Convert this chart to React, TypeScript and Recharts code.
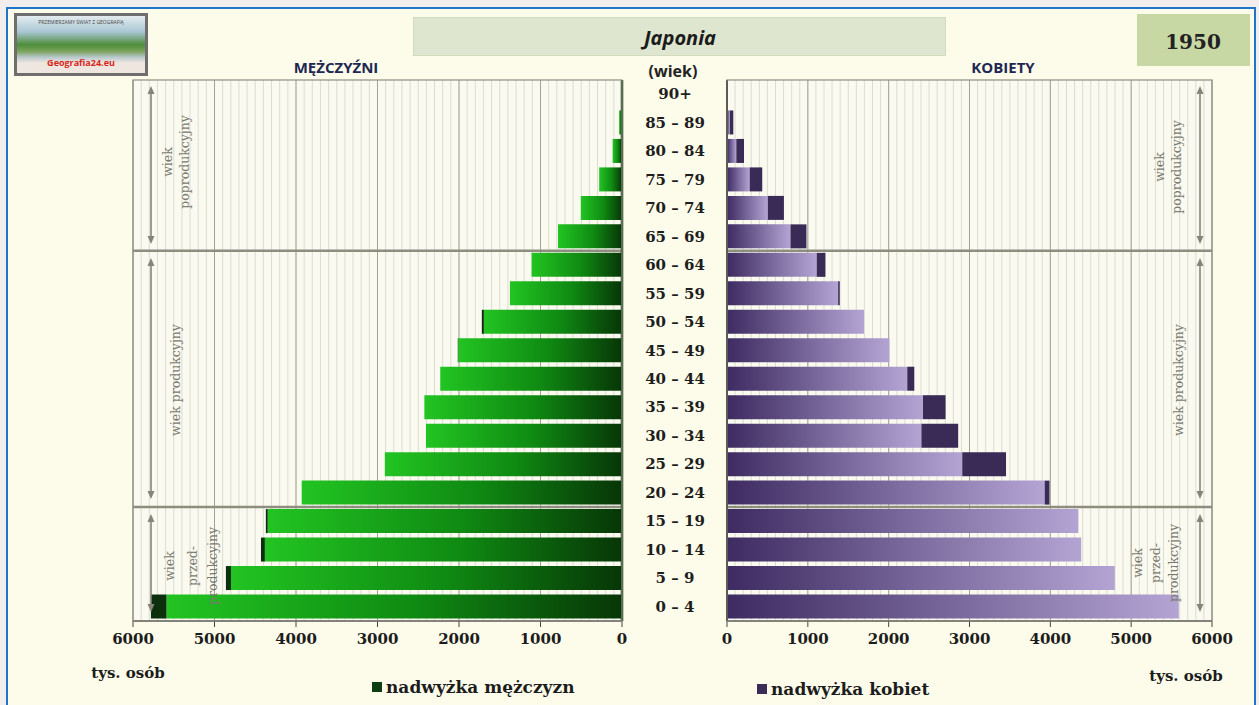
import React from "react";
import {
  BarChart,
  Bar,
  XAxis,
  YAxis,
  CartesianGrid,
  ReferenceLine,
} from "recharts";

// grupy wieku, od najstarszych (góra) do najmłodszych (dół)
const ages = [
  "90+", "85 – 89", "80 – 84", "75 – 79", "70 – 74", "65 – 69", "60 – 64",
  "55 – 59", "50 – 54", "45 – 49", "40 – 44", "35 – 39", "30 – 34",
  "25 – 29", "20 – 24", "15 – 19", "10 – 14", "5 – 9", "0 – 4",
];

// tys. osób, Japonia 1950
const men = [5, 35, 115, 280, 505, 785, 1110, 1375, 1720, 2015, 2230, 2425, 2405, 2910, 3930, 4370, 4430, 4860, 5780];
const women = [12, 78, 210, 436, 704, 983, 1218, 1395, 1695, 2010, 2317, 2704, 2860, 3452, 3990, 4347, 4382, 4798, 5589];

const majorTicks = [0, 1000, 2000, 3000, 4000, 5000, 6000];
const xMax = 6000;
const minorTicks = Array.from({ length: 61 }, (_, i) => i * 100);

const data = ages.map((age, i) => ({
  age,
  menBase: Math.min(men[i], women[i]),
  menSurplus: Math.max(men[i] - women[i], 0),
  womenBase: Math.min(men[i], women[i]),
  womenSurplus: Math.max(women[i] - men[i], 0),
}));

const serif = "'DejaVu Serif', 'Liberation Serif', serif";
const sans = "'Open Sans', 'Noto Sans', sans-serif";

const tickStyle = { fill: "#1c1c1c", fontFamily: serif, fontWeight: 700, fontSize: 15 };

// siatka co 100 tys. – liczona ze skali osi albo z obszaru wykresu
const minorLines = (reversed: boolean) => (props: any) => {
  const scale = props?.xAxis?.scale;
  if (typeof scale === "function") return minorTicks.map((v) => scale(v));
  const { left, width } = props.offset;
  return minorTicks.map((v) => left + width * (reversed ? 1 - v / xMax : v / xMax));
};

const abs = (cx: number, cy: number): React.CSSProperties => ({
  position: "absolute",
  left: cx,
  top: cy,
  transform: "translate(-50%, -50%)",
  whiteSpace: "nowrap",
});

function AgeTick(props: any) {
  const { y, payload } = props;
  return (
    <text x={35} y={y} dy={5} textAnchor="middle" fontFamily={serif} fontWeight={700} fontSize={15} fill="#1e1e1e">
      {payload.value}
    </text>
  );
}

function Arrow({ x, y1, y2 }: { x: number; y1: number; y2: number }) {
  return (
    <g stroke="#85857a" fill="#85857a">
      <line x1={x} y1={y1 + 6} x2={x} y2={y2 - 6} strokeWidth={1.6} />
      <path d={`M${x - 3.5},${y1 + 8} L${x},${y1} L${x + 3.5},${y1 + 8} Z`} stroke="none" />
      <path d={`M${x - 3.5},${y2 - 8} L${x},${y2} L${x + 3.5},${y2 - 8} Z`} stroke="none" />
    </g>
  );
}

function RotLabel({ lines, xs, cy }: { lines: string[]; xs: number[]; cy: number }) {
  return (
    <g fontFamily={serif} fontSize={12.5} fill="#7a7a70">
      {lines.map((l, i) => (
        <text key={i} x={xs[i]} y={cy} textAnchor="middle" dominantBaseline="central" transform={`rotate(-90 ${xs[i]} ${cy})`}>
          {l}
        </text>
      ))}
    </g>
  );
}

export default function App() {
  return (
    <div style={{ position: "fixed", left: 0, top: 0, width: 1259, height: 705, background: "#f2eeee", overflow: "hidden" }}>
      <div
        style={{
          position: "absolute",
          left: 6,
          top: 7,
          width: 1250,
          height: 715,
          border: "2px solid #1f75c9",
          background: "#fdfcea",
          boxSizing: "border-box",
        }}
      />

      {/* logo */}
      <div
        style={{
          position: "absolute",
          left: 14,
          top: 13,
          width: 134,
          height: 63,
          boxSizing: "border-box",
          border: "3px solid #6e6e6e",
          background: "linear-gradient(#e4ecef 0%, #a9c6d4 28%, #4f8e3c 50%, #7aa35b 62%, #b7c7c9 72%, #eee6df 82%)",
          fontFamily: sans,
        }}
      >
        <div style={{ position: "absolute", left: 0, right: 0, top: 3, textAlign: "center", fontSize: 5, color: "#444" }}>
          PRZEMIERZAMY ŚWIAT Z GEOGRAFIĄ
        </div>
        <div style={{ position: "absolute", left: 0, right: 0, bottom: 4, textAlign: "center", fontSize: 9, fontWeight: 700, color: "#d8261c" }}>
          Geografia24.eu
        </div>
      </div>

      {/* tytuł */}
      <div style={{ position: "absolute", left: 413, top: 17, width: 533, height: 39, background: "#dfe6cf", border: "1px solid #d2dac0", boxSizing: "border-box" }} />
      <div style={{ ...abs(680, 37), fontFamily: sans, fontStyle: "italic", fontWeight: 700, fontSize: 20, color: "#1b1b1b" }}>Japonia</div>
      <div style={{ position: "absolute", left: 1137, top: 14, width: 113, height: 52, background: "#c8d8a5" }} />
      <div style={{ ...abs(1193, 42), fontFamily: serif, fontWeight: 700, fontSize: 20, color: "#222" }}>1950</div>

      <div style={{ ...abs(336, 67), fontFamily: sans, fontWeight: 700, fontSize: 15, color: "#1d2752" }}>MĘŻCZYŹNI</div>
      <div style={{ ...abs(1003, 67), fontFamily: sans, fontWeight: 700, fontSize: 15, color: "#1d2752" }}>KOBIETY</div>
      <div style={{ ...abs(673, 71), fontFamily: sans, fontWeight: 700, fontSize: 16, color: "#222" }}>(wiek)</div>

      {/* mężczyźni */}
      <div style={{ position: "absolute", left: 0, top: 0 }}>
        <BarChart
          width={640}
          height={705}
          data={data}
          layout="vertical"
          barCategoryGap="7%"
          margin={{ top: 80, right: 18, left: 133, bottom: 54 }}
        >
          <defs>
            <linearGradient id="gMen" x1="0" y1="0" x2="1" y2="0">
              <stop offset="0%" stopColor="#22c422" />
              <stop offset="55%" stopColor="#0f8a12" />
              <stop offset="100%" stopColor="#073607" />
            </linearGradient>
          </defs>
          <CartesianGrid horizontal={false} stroke="#dcdccf" fill="#fbfaf1" verticalCoordinatesGenerator={minorLines(true)} />
          <CartesianGrid horizontal={false} stroke="#a3a394" />
          <XAxis
            type="number"
            domain={[0, xMax]}
            ticks={majorTicks}
            reversed
            tick={tickStyle}
            tickMargin={6}
            tickSize={6}
            axisLine={{ stroke: "#444", strokeWidth: 1.5 }}
            tickLine={{ stroke: "#444" }}
            interval={0}
          />
          <YAxis type="category" dataKey="age" hide />
          <Bar dataKey="menBase" stackId="m" fill="url(#gMen)" isAnimationActive={false} />
          <Bar dataKey="menSurplus" stackId="m" fill="#0c2f0e" isAnimationActive={false} />
          <ReferenceLine y="60 – 64" position="start" stroke="#8e8e80" strokeWidth={2.5} />
          <ReferenceLine y="15 – 19" position="start" stroke="#8e8e80" strokeWidth={2.5} />
          <ReferenceLine x={0} stroke="#0a3a0a" strokeWidth={2.5} />
        </BarChart>
      </div>

      {/* kobiety */}
      <div style={{ position: "absolute", left: 640, top: 0 }}>
        <BarChart
          width={619}
          height={705}
          data={data}
          layout="vertical"
          barCategoryGap="7%"
          margin={{ top: 80, right: 47, left: 0, bottom: 54 }}
        >
          <defs>
            <linearGradient id="gWomen" x1="0" y1="0" x2="1" y2="0">
              <stop offset="0%" stopColor="#3d2b61" />
              <stop offset="100%" stopColor="#b4a4d4" />
            </linearGradient>
          </defs>
          <CartesianGrid horizontal={false} stroke="#dcdccf" fill="#fbfaf1" verticalCoordinatesGenerator={minorLines(false)} />
          <CartesianGrid horizontal={false} stroke="#a3a394" />
          <XAxis
            type="number"
            domain={[0, xMax]}
            ticks={majorTicks}
            tick={tickStyle}
            tickMargin={6}
            tickSize={6}
            axisLine={{ stroke: "#444", strokeWidth: 1.5 }}
            tickLine={{ stroke: "#444" }}
            interval={0}
          />
          <YAxis
            type="category"
            dataKey="age"
            width={87}
            tick={<AgeTick />}
            tickLine={false}
            axisLine={{ stroke: "#111", strokeWidth: 2 }}
            interval={0}
          />
          <Bar dataKey="womenBase" stackId="w" fill="url(#gWomen)" isAnimationActive={false} />
          <Bar dataKey="womenSurplus" stackId="w" fill="#392a56" isAnimationActive={false} />
          <ReferenceLine y="60 – 64" position="start" stroke="#8e8e80" strokeWidth={2.5} />
          <ReferenceLine y="15 – 19" position="start" stroke="#8e8e80" strokeWidth={2.5} />
        </BarChart>
      </div>

      {/* ramki, strzałki i opisy grup wieku */}
      <svg width={1259} height={705} style={{ position: "absolute", left: 0, top: 0, pointerEvents: "none" }}>
        <rect x={133} y={80} width={489} height={541} fill="none" stroke="#8f8f84" strokeWidth={1.2} />
        <rect x={727} y={80} width={485} height={541} fill="none" stroke="#8f8f84" strokeWidth={1.2} />
        <Arrow x={151} y1={86} y2={244} />
        <Arrow x={151} y1={258} y2={499} />
        <Arrow x={151} y1={514} y2={612} />
        <Arrow x={1200} y1={86} y2={244} />
        <Arrow x={1200} y1={258} y2={499} />
        <Arrow x={1200} y1={514} y2={612} />
        <RotLabel lines={["wiek", "poprodukcyjny"]} xs={[167, 184]} cy={162} />
        <RotLabel lines={["wiek produkcyjny"]} xs={[175]} cy={380} />
        <RotLabel lines={["wiek", "przed-", "produkcyjny"]} xs={[169, 192, 212]} cy={566} />
        <RotLabel lines={["wiek", "poprodukcyjny"]} xs={[1159, 1176]} cy={167} />
        <RotLabel lines={["wiek produkcyjny"]} xs={[1178]} cy={380} />
        <RotLabel lines={["wiek", "przed-", "produkcyjny"]} xs={[1137, 1155, 1173]} cy={563} />
      </svg>

      <div style={{ ...abs(128, 673), fontFamily: serif, fontWeight: 700, fontSize: 15, color: "#1c1c1c" }}>tys. osób</div>
      <div style={{ ...abs(1186, 676), fontFamily: serif, fontWeight: 700, fontSize: 15, color: "#1c1c1c" }}>tys. osób</div>

      {/* legenda */}
      <div style={{ position: "absolute", left: 372, top: 677, display: "flex", alignItems: "center", fontFamily: serif, fontWeight: 700, fontSize: 17, color: "#1c1c1c" }}>
        <span style={{ width: 10, height: 10, background: "#0e3f12", marginRight: 4, display: "inline-block" }} />
        nadwyżka mężczyzn
      </div>
      <div style={{ position: "absolute", left: 757, top: 679, display: "flex", alignItems: "center", fontFamily: serif, fontWeight: 700, fontSize: 17, color: "#1c1c1c" }}>
        <span style={{ width: 10, height: 10, background: "#3a2c56", marginRight: 4, display: "inline-block" }} />
        nadwyżka kobiet
      </div>
    </div>
  );
}
